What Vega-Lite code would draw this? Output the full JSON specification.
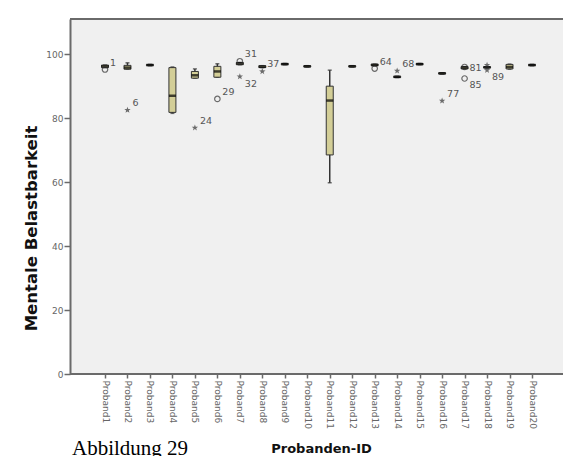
{
  "$schema": "https://vega.github.io/schema/vega-lite/v6.json",
  "width": 493,
  "height": 355,
  "autosize": {"type": "none"},
  "padding": {"left": 70, "top": 19, "right": 0, "bottom": 82},
  "background": "white",
  "title": {
    "text": "Abbildung 29",
    "orient": "bottom",
    "anchor": "start",
    "frame": "group",
    "font": "Liberation Serif",
    "fontSize": 21,
    "fontWeight": "normal",
    "color": "#000000",
    "baseline": "alphabetic",
    "dx": 2,
    "offset": 0
  },
  "config": {
    "view": {"fill": "#f0f0f0", "stroke": null},
    "axis": {
      "domainColor": "#6a6a6a",
      "domainWidth": 2,
      "tickColor": "#6a6a6a",
      "tickWidth": 1.5,
      "labelColor": "#666666",
      "labelFont": "DejaVu Sans",
      "labelFontSize": 9,
      "titleFont": "DejaVu Sans",
      "titleFontWeight": "bold",
      "titleColor": "#111111",
      "grid": false
    }
  },
  "datasets": {
    "boxes": [
      {"id": "Proband1", "lo": 95.8, "q1": 95.8, "med": 96.2, "q3": 96.6, "hi": 96.6},
      {"id": "Proband2", "lo": 95.3, "q1": 95.3, "med": 95.8, "q3": 96.5, "hi": 97.3},
      {"id": "Proband3", "lo": 96.4, "q1": 96.4, "med": 96.6, "q3": 96.8, "hi": 96.8},
      {"id": "Proband4", "lo": 81.5, "q1": 81.8, "med": 87.0, "q3": 95.8, "hi": 96.0},
      {"id": "Proband5", "lo": 92.5, "q1": 92.5, "med": 93.4, "q3": 94.6, "hi": 95.4},
      {"id": "Proband6", "lo": 92.8, "q1": 92.8, "med": 94.6, "q3": 96.2, "hi": 97.0},
      {"id": "Proband7", "lo": 96.7, "q1": 96.7, "med": 97.1, "q3": 97.4, "hi": 97.4},
      {"id": "Proband8", "lo": 95.8, "q1": 95.8, "med": 96.1, "q3": 96.4, "hi": 96.4},
      {"id": "Proband9", "lo": 96.7, "q1": 96.7, "med": 96.9, "q3": 97.1, "hi": 97.1},
      {"id": "Proband10", "lo": 96.0, "q1": 96.0, "med": 96.2, "q3": 96.4, "hi": 96.4},
      {"id": "Proband11", "lo": 59.8, "q1": 68.5, "med": 85.5, "q3": 90.0, "hi": 95.0},
      {"id": "Proband12", "lo": 96.0, "q1": 96.0, "med": 96.2, "q3": 96.4, "hi": 96.4},
      {"id": "Proband13", "lo": 96.4, "q1": 96.4, "med": 96.6, "q3": 96.9, "hi": 96.9},
      {"id": "Proband14", "lo": 92.7, "q1": 92.7, "med": 92.9, "q3": 93.1, "hi": 93.1},
      {"id": "Proband15", "lo": 96.7, "q1": 96.7, "med": 96.9, "q3": 97.1, "hi": 97.1},
      {"id": "Proband16", "lo": 93.8, "q1": 93.8, "med": 94.0, "q3": 94.2, "hi": 94.2},
      {"id": "Proband17", "lo": 95.4, "q1": 95.4, "med": 95.8, "q3": 96.1, "hi": 96.1},
      {"id": "Proband18", "lo": 95.7, "q1": 95.7, "med": 95.9, "q3": 96.1, "hi": 96.1},
      {"id": "Proband19", "lo": 95.3, "q1": 95.4, "med": 96.0, "q3": 96.8, "hi": 96.9},
      {"id": "Proband20", "lo": 96.4, "q1": 96.4, "med": 96.6, "q3": 96.8, "hi": 96.8}
    ],
    "outliers": [
      {"id": "Proband1", "value": 95.2, "kind": "circle", "label": "1"},
      {"id": "Proband2", "value": 82.5, "kind": "star", "label": "6"},
      {"id": "Proband5", "value": 77.0, "kind": "star", "label": "24"},
      {"id": "Proband6", "value": 86.0, "kind": "circle", "label": "29"},
      {"id": "Proband7", "value": 97.8, "kind": "circle", "label": "31"},
      {"id": "Proband7", "value": 93.0, "kind": "star", "label": "32"},
      {"id": "Proband8", "value": 94.6, "kind": "star", "label": "37"},
      {"id": "Proband13", "value": 95.5, "kind": "circle", "label": "64"},
      {"id": "Proband14", "value": 94.8, "kind": "star", "label": "68"},
      {"id": "Proband16", "value": 85.4, "kind": "star", "label": "77"},
      {"id": "Proband17", "value": 96.0, "kind": "circle", "label": "81"},
      {"id": "Proband17", "value": 92.4, "kind": "circle", "label": "85"},
      {"id": "Proband18", "value": 96.6, "kind": "star", "label": ""},
      {"id": "Proband18", "value": 95.0, "kind": "star", "label": "89"}
    ]
  },
  "layer": [
    {
      "data": {"name": "boxes"},
      "mark": {"type": "rule", "color": "#333333", "strokeWidth": 1.5},
      "encoding": {
        "x": {
          "field": "id",
          "type": "nominal",
          "sort": null,
          "scale": {"type": "point", "range": [35, 462], "padding": 0},
          "axis": {
            "title": "Probanden-ID",
            "domain": false,
            "labelAngle": 90,
            "labelAlign": "left",
            "labelBaseline": "middle",
            "labelPadding": 2,
            "tickSize": 4,
            "titleFontSize": 13,
            "titleX": 251,
            "titleY": 78,
            "titleBaseline": "alphabetic"
          }
        },
        "y": {
          "field": "lo",
          "type": "quantitative",
          "scale": {"domain": [0, 111], "nice": false},
          "axis": {
            "title": "Mentale Belastbarkeit",
            "values": [0, 20, 40, 60, 80, 100],
            "tickSize": 6,
            "labelPadding": 1,
            "titleFontSize": 16.5,
            "titleAngle": -90,
            "titleX": -39,
            "titleY": 209,
            "titleAlign": "center",
            "titleBaseline": "middle"
          }
        },
        "y2": {"field": "hi"}
      }
    },
    {
      "data": {"name": "boxes"},
      "mark": {"type": "tick", "color": "#333333", "size": 4, "thickness": 1.5},
      "encoding": {"x": {"field": "id", "type": "nominal", "sort": null}, "y": {"field": "lo", "type": "quantitative"}}
    },
    {
      "data": {"name": "boxes"},
      "mark": {"type": "tick", "color": "#333333", "size": 4, "thickness": 1.5},
      "encoding": {"x": {"field": "id", "type": "nominal", "sort": null}, "y": {"field": "hi", "type": "quantitative"}}
    },
    {
      "data": {"name": "boxes"},
      "mark": {"type": "bar", "size": 7, "fill": "#d3ce97", "stroke": "#333333", "strokeWidth": 1},
      "encoding": {
        "x": {"field": "id", "type": "nominal", "sort": null},
        "y": {"field": "q1", "type": "quantitative"},
        "y2": {"field": "q3"}
      }
    },
    {
      "data": {"name": "boxes"},
      "mark": {"type": "tick", "color": "#000000", "size": 7, "thickness": 2.5},
      "encoding": {"x": {"field": "id", "type": "nominal", "sort": null}, "y": {"field": "med", "type": "quantitative"}}
    },
    {
      "data": {"name": "outliers"},
      "transform": [{"filter": "datum.kind == 'circle'"}],
      "mark": {"type": "point", "shape": "circle", "filled": false, "stroke": "#333333", "strokeWidth": 1.2, "size": 30},
      "encoding": {"x": {"field": "id", "type": "nominal", "sort": null}, "y": {"field": "value", "type": "quantitative"}}
    },
    {
      "data": {"name": "outliers"},
      "transform": [{"filter": "datum.kind == 'star'"}],
      "mark": {
        "type": "point",
        "shape": "M0,-1L0.24,-0.33L0.95,-0.31L0.39,0.13L0.59,0.81L0,0.41L-0.59,0.81L-0.39,0.13L-0.95,-0.31L-0.24,-0.33Z",
        "filled": true,
        "fill": "#333333",
        "size": 45
      },
      "encoding": {"x": {"field": "id", "type": "nominal", "sort": null}, "y": {"field": "value", "type": "quantitative"}}
    },
    {
      "data": {"name": "outliers"},
      "transform": [{"filter": "indexof(['32','85','89'], datum.label) < 0 && datum.label != '81'"}],
      "mark": {"type": "text", "align": "left", "dx": 5, "dy": -7, "font": "DejaVu Sans", "fontSize": 9.5, "color": "#555555"},
      "encoding": {"x": {"field": "id", "type": "nominal", "sort": null}, "y": {"field": "value", "type": "quantitative"}, "text": {"field": "label"}}
    },
    {
      "data": {"name": "outliers"},
      "transform": [{"filter": "indexof(['32','85','89'], datum.label) >= 0"}],
      "mark": {"type": "text", "align": "left", "dx": 5, "dy": 7, "font": "DejaVu Sans", "fontSize": 9.5, "color": "#555555"},
      "encoding": {"x": {"field": "id", "type": "nominal", "sort": null}, "y": {"field": "value", "type": "quantitative"}, "text": {"field": "label"}}
    },
    {
      "data": {"name": "outliers"},
      "transform": [{"filter": "datum.label == '81'"}],
      "mark": {"type": "text", "align": "left", "dx": 5, "dy": 1, "font": "DejaVu Sans", "fontSize": 9.5, "color": "#555555"},
      "encoding": {"x": {"field": "id", "type": "nominal", "sort": null}, "y": {"field": "value", "type": "quantitative"}, "text": {"field": "label"}}
    },
    {
      "data": {"values": [{"edge": 111}, {"edge": 0}]},
      "mark": {"type": "rule", "color": "#6a6a6a", "strokeWidth": 2},
      "encoding": {"y": {"field": "edge", "type": "quantitative"}}
    }
  ]
}
